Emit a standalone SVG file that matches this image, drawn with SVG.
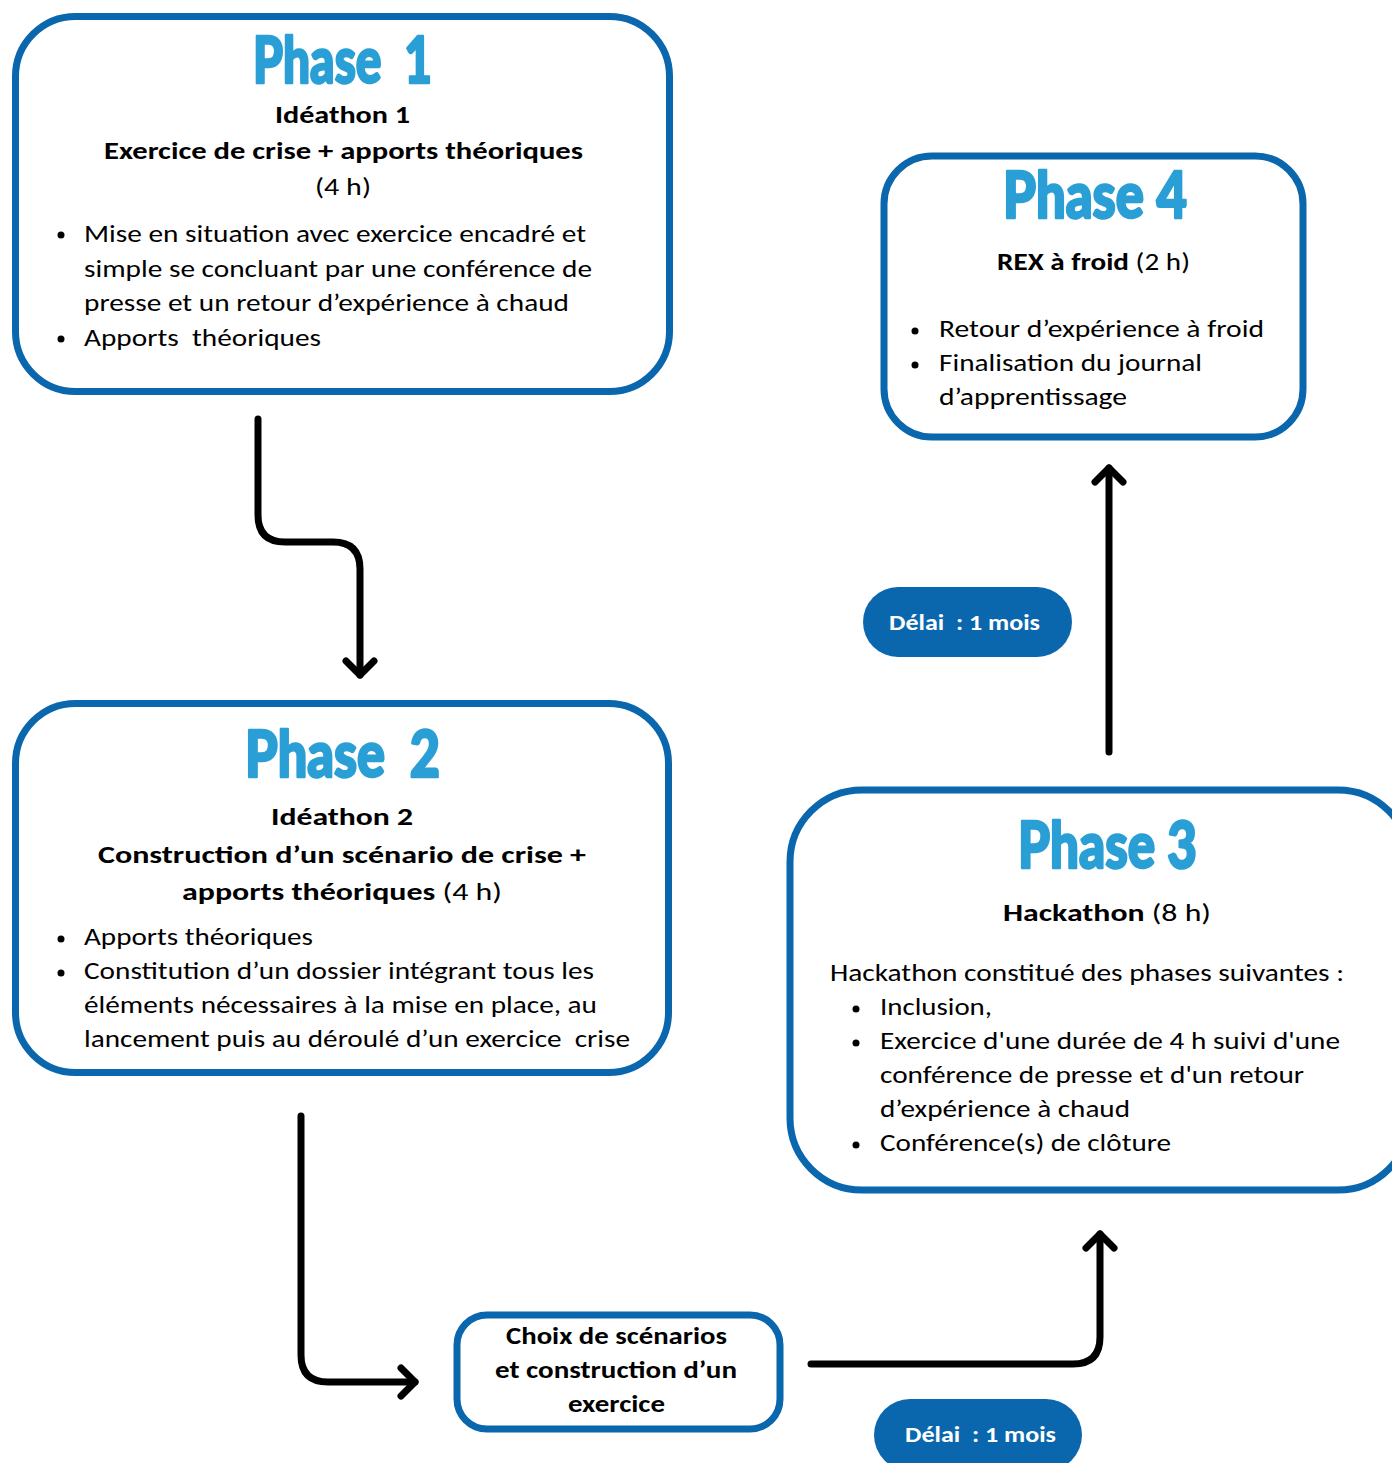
<svg xmlns="http://www.w3.org/2000/svg" width="1392" height="1463" viewBox="0 0 1392 1463">
<style>
.box{fill:#fff;stroke:#0A67AD;stroke-width:7}
.pill{fill:#0A67AD}
.h{font-family:Lato,"Open Sans",sans-serif;font-weight:900;font-size:64px;fill:#2A9FD6;stroke:#2A9FD6;stroke-width:2.5;stroke-linejoin:round}
.t{font-family:Carlito,Lato,"Liberation Sans",sans-serif;font-size:25px;fill:#000}
.bd{font-weight:bold}
.w{font-family:Carlito,Lato,"Liberation Sans",sans-serif;font-size:23px;font-weight:bold;fill:#fff}
.dot{fill:#000}
.con{fill:none;stroke:#000;stroke-width:7;stroke-linecap:round;stroke-linejoin:round}
</style>
<defs>
<marker id="chev" viewBox="0 0 16 30" refX="15" refY="15" markerWidth="16" markerHeight="30" markerUnits="userSpaceOnUse" orient="auto" overflow="visible">
<path d="M1,1 L15,15 L1,29" fill="none" stroke="#000" stroke-width="7" stroke-linecap="round" stroke-linejoin="round"/>
</marker>
</defs>
<rect width="1392" height="1463" fill="#fff"/>

<g id="connectors">
<path class="con" d="M258,419 V515 Q258,542 285,542 H333 Q360,542 360,569 V675" marker-end="url(#chev)"/>
<path class="con" d="M301,1116 V1355 Q301,1382 328,1382 H415" marker-end="url(#chev)"/>
<path class="con" d="M1109,752 V468" marker-end="url(#chev)"/>
<path class="con" d="M811,1364 H1073 Q1100,1364 1100,1337 V1234" marker-end="url(#chev)"/>
</g>

<g id="phase1">
<rect class="box" x="15.5" y="16.5" width="654" height="375" rx="60"/>
<text class="h" x="253" y="83" textLength="179" lengthAdjust="spacingAndGlyphs" xml:space="preserve">Phase  1</text>
<text class="t bd" x="275" y="123" textLength="135" lengthAdjust="spacingAndGlyphs">Idéathon 1</text>
<text class="t bd" x="104" y="159" textLength="479" lengthAdjust="spacingAndGlyphs">Exercice de crise + apports théoriques</text>
<text class="t" x="315" y="195" textLength="56" lengthAdjust="spacingAndGlyphs">(4 h)</text>
<circle class="dot" cx="61" cy="235" r="3.5"/>
<circle class="dot" cx="61" cy="339" r="3.5"/>
<text class="t" x="84" y="242" textLength="502" lengthAdjust="spacingAndGlyphs">Mise en situation avec exercice encadré et</text>
<text class="t" x="84" y="277" textLength="508" lengthAdjust="spacingAndGlyphs">simple se concluant par une conférence de</text>
<text class="t" x="84" y="311" textLength="485" lengthAdjust="spacingAndGlyphs">presse et un retour d’expérience à chaud</text>
<text class="t" x="84" y="346" textLength="237" lengthAdjust="spacingAndGlyphs" xml:space="preserve">Apports  théoriques</text>
</g>

<g id="phase4">
<rect class="box" x="884" y="156" width="419" height="281" rx="48"/>
<text class="h" x="1003" y="218" textLength="184" lengthAdjust="spacingAndGlyphs">Phase 4</text>
<text class="t" x="997" y="270" textLength="193" lengthAdjust="spacingAndGlyphs"><tspan class="bd">REX à froid</tspan> (2 h)</text>
<circle class="dot" cx="915" cy="331" r="3.5"/>
<circle class="dot" cx="915" cy="365" r="3.5"/>
<text class="t" x="939" y="337" textLength="325" lengthAdjust="spacingAndGlyphs">Retour d’expérience à froid</text>
<text class="t" x="939" y="371" textLength="263" lengthAdjust="spacingAndGlyphs">Finalisation du journal</text>
<text class="t" x="939" y="405" textLength="188" lengthAdjust="spacingAndGlyphs">d’apprentissage</text>
</g>

<g id="phase2">
<rect class="box" x="15.5" y="703.5" width="653" height="369" rx="60"/>
<text class="h" x="245" y="777" textLength="195" lengthAdjust="spacingAndGlyphs" xml:space="preserve">Phase  2</text>
<text class="t bd" x="271" y="825" textLength="142" lengthAdjust="spacingAndGlyphs">Idéathon 2</text>
<text class="t bd" x="98" y="863" textLength="488" lengthAdjust="spacingAndGlyphs">Construction d’un scénario de crise +</text>
<text class="t" x="182" y="900" textLength="320" lengthAdjust="spacingAndGlyphs"><tspan class="bd">apports théoriques</tspan> (4 h)</text>
<circle class="dot" cx="61" cy="939" r="3.5"/>
<circle class="dot" cx="61" cy="973" r="3.5"/>
<text class="t" x="84" y="945" textLength="229" lengthAdjust="spacingAndGlyphs">Apports théoriques</text>
<text class="t" x="84" y="979" textLength="510" lengthAdjust="spacingAndGlyphs">Constitution d’un dossier intégrant tous les</text>
<text class="t" x="84" y="1013" textLength="513" lengthAdjust="spacingAndGlyphs">éléments nécessaires à la mise en place, au</text>
<text class="t" x="84" y="1047" textLength="546" lengthAdjust="spacingAndGlyphs" xml:space="preserve">lancement puis au déroulé d’un exercice  crise</text>
</g>

<g id="phase3">
<rect class="box" x="790" y="790" width="620" height="400" rx="72"/>
<text class="h" x="1018" y="868" textLength="179" lengthAdjust="spacingAndGlyphs">Phase 3</text>
<text class="t" x="1003" y="921" textLength="208" lengthAdjust="spacingAndGlyphs"><tspan class="bd">Hackathon</tspan> (8 h)</text>
<text class="t" x="830" y="981" textLength="514" lengthAdjust="spacingAndGlyphs">Hackathon constitué des phases suivantes :</text>
<circle class="dot" cx="856" cy="1009" r="3.5"/>
<circle class="dot" cx="856" cy="1043" r="3.5"/>
<circle class="dot" cx="856" cy="1145" r="3.5"/>
<text class="t" x="880" y="1015" textLength="112" lengthAdjust="spacingAndGlyphs">Inclusion,</text>
<text class="t" x="880" y="1049" textLength="460" lengthAdjust="spacingAndGlyphs">Exercice d'une durée de 4 h suivi d'une</text>
<text class="t" x="880" y="1083" textLength="424" lengthAdjust="spacingAndGlyphs">conférence de presse et d'un retour</text>
<text class="t" x="880" y="1117" textLength="250" lengthAdjust="spacingAndGlyphs">d’expérience à chaud</text>
<text class="t" x="880" y="1151" textLength="291" lengthAdjust="spacingAndGlyphs">Conférence(s) de clôture</text>
</g>

<g id="choix">
<rect class="box" x="457" y="1315" width="323" height="114" rx="30"/>
<text class="t bd" x="506" y="1344" textLength="221" lengthAdjust="spacingAndGlyphs">Choix de scénarios</text>
<text class="t bd" x="495" y="1378" textLength="242" lengthAdjust="spacingAndGlyphs">et construction d’un</text>
<text class="t bd" x="568" y="1412" textLength="97" lengthAdjust="spacingAndGlyphs">exercice</text>
</g>

<g id="delai1">
<rect class="pill" x="863" y="587" width="209" height="70" rx="35"/>
<text class="w" x="889" y="630" textLength="151" lengthAdjust="spacingAndGlyphs" xml:space="preserve">Délai  : 1 mois</text>
</g>

<g id="delai2">
<rect class="pill" x="874" y="1399" width="208" height="72" rx="36"/>
<text class="w" x="905" y="1442" textLength="151" lengthAdjust="spacingAndGlyphs" xml:space="preserve">Délai  : 1 mois</text>
</g>
</svg>
